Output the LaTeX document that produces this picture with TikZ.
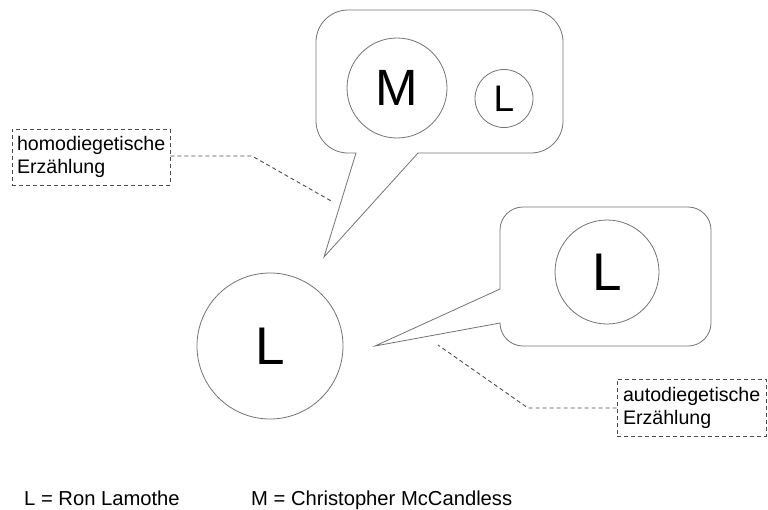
\documentclass[tikz,border=0pt]{standalone}
\usepackage{fontspec}
\setmainfont{Liberation Sans}
\begin{document}
\begin{tikzpicture}[x=1pt,y=-1pt,
  outl/.style={draw=black!55,line width=0.8pt},
  circ/.style={circle,outl,inner sep=0pt},
  dashbox/.style={draw=black!70,dash pattern=on 4pt off 3pt,line width=0.9pt,align=left,
     font=\fontsize{19.6}{23}\selectfont},
  dashline/.style={draw=black!70,dash pattern=on 4pt off 3pt,line width=0.9pt},
  legend/.style={font=\fontsize{20.2}{23}\selectfont,anchor=base west,inner sep=0pt}]
\useasboundingbox (0,0) rectangle (768,509);
% speech bubbles
\draw[outl] (324,257) -- (356,153) [rounded corners=32pt] -- (316,153) -- (316,10) -- (563,10) -- (563,153) [sharp corners] -- (418,153) -- cycle;
\draw[outl] (375,346) -- (500,323) [rounded corners=23pt] -- (500,346) -- (711,346) -- (711,207) -- (500,207) [sharp corners] -- (500,289) -- cycle;
% circles
\node[circ,minimum size=100pt,font=\fontsize{51}{51}\selectfont] (M) at (397,88) {M};
\node[circ,minimum size=58pt,font=\fontsize{37}{37}\selectfont] (Ls) at (504,98.5) {L};
\node[circ,minimum size=104pt,font=\fontsize{53}{53}\selectfont] (Lr) at (607,272) {L};
\node[circ,minimum size=146pt,font=\fontsize{53}{53}\selectfont] (Lbig) at (270,346) {L};
% dashed annotation boxes
\node[dashbox,minimum width=158pt,minimum height=56pt,text width=148pt,inner xsep=5pt] (homo) at (91,157) {homodiegetische\\Erzählung};
\node[dashbox,minimum width=149pt,minimum height=57pt,text width=137pt,inner xsep=6pt] (auto) at (691.5,407.5) {autodiegetische\\Erzählung};
\coordinate (h1) at (252,156);
\coordinate (h2) at (333,202);
\coordinate (a1) at (528,408);
\coordinate (a2) at (438,345);
\draw[dashline] (homo.east |- h1) -- (h1) -- (h2);
\draw[dashline] (auto.west |- a1) -- (a1) -- (a2);
% legend
\node[legend] (legL) at (24,505) {L = Ron Lamothe};
\node[legend] (legM) at (251,505) {M = Christopher McCandless};
\end{tikzpicture}
\end{document}
